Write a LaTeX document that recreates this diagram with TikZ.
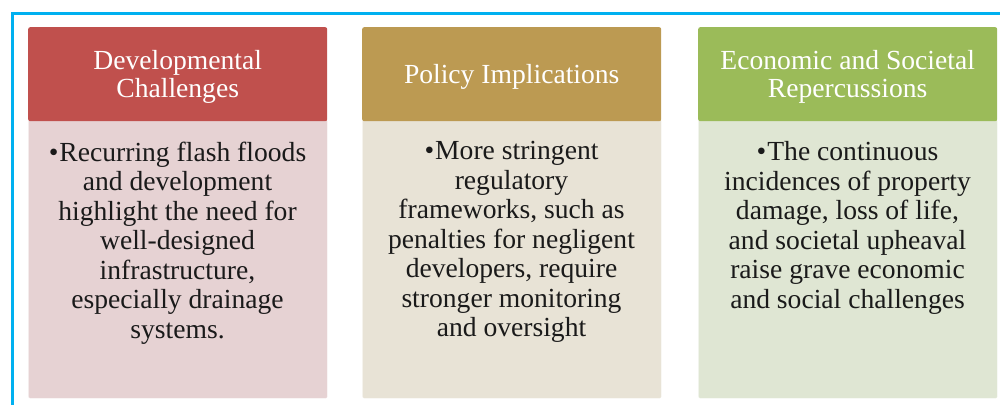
\documentclass[tikz,border=0pt]{standalone}
\usepackage{fontspec}
\setmainfont{Liberation Serif}
\definecolor{frameblue}{HTML}{00B0F0}
\definecolor{hdrred}{HTML}{C0504D}
\definecolor{hdrtan}{HTML}{BC9A52}
\definecolor{hdrgreen}{HTML}{9BBB59}
\definecolor{bodyred}{HTML}{E6D2D3}
\definecolor{bodytan}{HTML}{E8E3D6}
\definecolor{bodygreen}{HTML}{DFE6D3}
\definecolor{bodyink}{HTML}{1A1A1A}
\newcommand{\hdrstrut}{\rule{0pt}{25pt}}
\begin{document}
\begin{tikzpicture}[x=1pt,y=-1pt,
  hdr/.style={anchor=north west, minimum width=299pt, minimum height=94pt, inner sep=0pt,
    text=white, align=center, font=\fontsize{27.6}{28}\selectfont, rounded corners=2pt},
  bodybox/.style={anchor=north west, minimum width=299pt, minimum height=279pt, inner sep=0pt,
    rounded corners=2pt, draw=white, draw opacity=0.35, line width=0.8pt},
  bodytxt/.style={anchor=north, inner sep=0pt, align=center, text=bodyink,
    font=\fontsize{27.6}{29.5}\selectfont}]
\useasboundingbox (0,0) rectangle (1000,405);
% frame
\coordinate (ftr) at (1000,13.3);
\coordinate (ftl) at (12.3,13.3);
\coordinate (fbl) at (12.3,405);
\draw[frameblue, line width=2.4pt] (ftr) -- (ftl) -- (fbl);
% bodies
\node[bodybox, fill=bodyred]   (b1) at (28,119) {};
\node[bodybox, fill=bodytan]   (b2) at (362,119) {};
\node[bodybox, fill=bodygreen] (b3) at (698,119) {};
% headers
\node[hdr, fill=hdrred]   (h1) at (28,27)  {\hdrstrut Developmental\\Challenges};
\node[hdr, fill=hdrtan]   (h2) at (362,27) {\hdrstrut Policy Implications};
\node[hdr, fill=hdrgreen] (h3) at (698,27) {\hdrstrut Economic and Societal\\Repercussions};
% texts
\node[bodytxt] (t1) at (177.5,141.5) {•\hspace{1pt}Recurring flash floods\\and development\\highlight the need for\\well-designed\\infrastructure,\\especially drainage\\systems.};
\node[bodytxt] (t2) at (511.5,141.5) {•\hspace{1pt}More stringent\\regulatory\\frameworks, such as\\penalties for negligent\\developers, require\\stronger monitoring\\and oversight};
\node[bodytxt] (t3) at (847.5,141.5) {•\hspace{1pt}The continuous\\incidences of property\\damage, loss of life,\\and societal upheaval\\raise grave economic\\and social challenges};
\end{tikzpicture}
\end{document}
